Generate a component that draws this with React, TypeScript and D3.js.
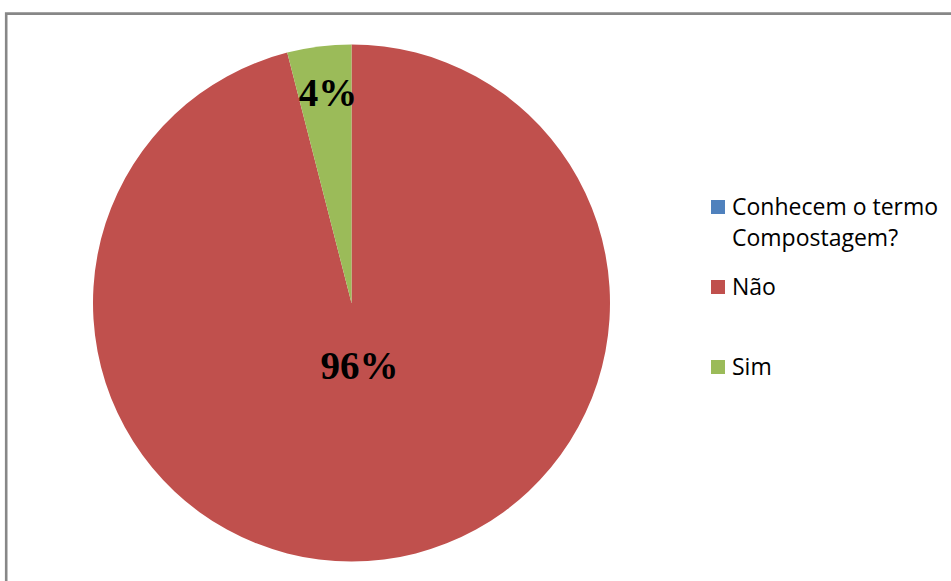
import React from "react";
import * as d3 from "d3";

const categories = ["Conhecem o termo Compostagem?", "Não", "Sim"];
const values = [0, 96, 4];
const colors = ["#4F81BD", "#C0504D", "#9BBB59"];
const legendLines = [["Conhecem o termo", "Compostagem?"], ["Não"], ["Sim"]];

const W = 951;
const H = 581;
const cx = 351.5;
const cy = 303;
const R = 258.5;
// radial position of each data label as a fraction of the radius
const labelRadiusFrac = [0, 0.245, 0.82];

export default function App() {
  const pie = d3
    .pie<number>()
    .sort(null)
    .value((d) => d)
    .startAngle(0)
    .endAngle(2 * Math.PI);
  const arcs = pie(values);
  const arcGen = d3.arc<d3.PieArcDatum<number>>().innerRadius(0).outerRadius(R);
  const total = d3.sum(values);
  const fmt = d3.format(".0%");

  const legendX = 711;
  const legendY = d3.scaleOrdinal<string, number>().domain(categories).range([207, 287, 367]);

  return (
    <svg
      width={W}
      height={H}
      style={{ position: "absolute", left: 0, top: 0, background: "#fff" }}
    >
      <path
        d={`M6.2,${H + 5} L6.2,13.6 L${W + 5},13.6`}
        fill="none"
        stroke="#878787"
        strokeWidth={2.6}
      />
      <g transform={`translate(${cx},${cy})`}>
        {arcs.map((a, i) =>
          a.value > 0 ? <path key={i} d={arcGen(a) || ""} fill={colors[i]} /> : null
        )}
        {arcs.map((a, i) => {
          if (a.value <= 0) return null;
          const mid = (a.startAngle + a.endAngle) / 2;
          const r = R * labelRadiusFrac[i];
          const x = Math.sin(mid) * r + (i === 2 ? 3 : 0);
          const y = -Math.cos(mid) * r;
          return (
            <text
              key={"l" + i}
              x={x}
              y={y + 13}
              textAnchor="middle"
              fontFamily="'Liberation Serif', 'DejaVu Serif', serif"
              fontWeight="bold"
              fontSize={39}
              fill="#000"
            >
              {fmt(a.value / total)}
            </text>
          );
        })}
      </g>
      <g>
        {categories.map((c, i) => {
          const y = legendY(c);
          return (
            <g key={c}>
              <rect x={legendX} y={y - 7} width={14} height={14} fill={colors[i]} />
              {legendLines[i].map((line, j) => (
                <text
                  key={j}
                  x={legendX + 21}
                  y={y + 8 + j * 31}
                  fontFamily="'Open Sans', 'Noto Sans', sans-serif"
                  fontSize={23}
                  fill="#000"
                >
                  {line}
                </text>
              ))}
            </g>
          );
        })}
      </g>
    </svg>
  );
}
